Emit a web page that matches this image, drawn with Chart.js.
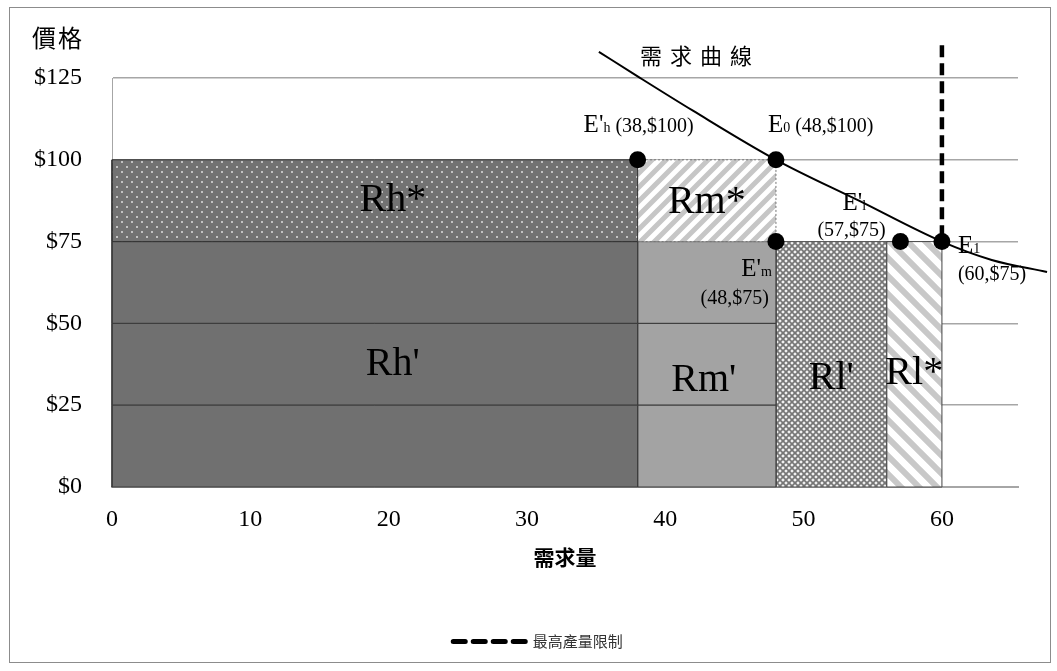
<!DOCTYPE html>
<html>
<head>
<meta charset="utf-8">
<script src="https://cdn.jsdelivr.net/npm/chart.js@4/dist/chart.umd.min.js"></script>
<style>
  html, body { margin: 0; padding: 0; background: #fff; }
  canvas { display: block; }
</style>
</head>
<body>
<canvas id="chart" width="1057" height="671"></canvas>
<script>
// Revenue areas under the demand curve
const regionNames = ["Rh*", "Rh'", "Rm*", "Rm'", "Rl'", "Rl*"];
const regionQtyFrom = [0, 0, 38, 38, 48, 56];
const regionQtyTo = [38, 38, 48, 48, 56, 60];
const regionPriceFrom = [75, 0, 75, 0, 0, 0];
const regionPriceTo = [100, 75, 100, 75, 75, 75];

// Marked points on the chart
const pointNames = ["E'h", "E0", "E'm", "E'l", "E1"];
const pointQty = [38, 48, 48, 57, 60];
const pointPrice = [100, 100, 75, 75, 75];

// Demand curve
const curveQty = [35.2, 38, 42, 48, 54, 60, 63.6, 67.6];
const curvePrice = [133, 125.5, 115, 100, 87.5, 75, 69.4, 65.7];

// Maximum output limit
const capQty = [60, 60];
const capPrice = [135, 75];
const capLabel = "最高產量限制";

// Axes
const qtyTicks = [0, 10, 20, 30, 40, 50, 60];
const priceTicks = [0, 25, 50, 75, 100, 125];
const qtyTitle = "需求量";
const priceTitle = "價格";
const curveTitle = "需求曲線";

const SERIF = "'Liberation Serif', 'Times New Roman', serif";
const CJK = "'Noto Sans CJK TC', 'Noto Sans CJK SC', sans-serif";

// ---- fill patterns ----
function makePattern(size, paint) {
  const c = document.createElement('canvas');
  c.width = size; c.height = size;
  const g = c.getContext('2d');
  paint(g, size);
  return g.createPattern(c, 'repeat');
}
const dotPattern = makePattern(10, (g, s) => {
  g.fillStyle = '#727272'; g.fillRect(0, 0, s, s);
  g.fillStyle = '#b4b4b4';
  g.fillRect(1, 1, 2, 2); g.fillRect(6, 6, 2, 2);
  g.fillStyle = '#ececec';
  g.fillRect(1.5, 1.5, 1, 1); g.fillRect(6.5, 6.5, 1, 1);
});
function stripes(size, width, color, rising) {
  return makePattern(size, (g, s) => {
    g.fillStyle = '#fff'; g.fillRect(0, 0, s, s);
    g.strokeStyle = color; g.lineWidth = width; g.lineCap = 'square';
    g.beginPath();
    for (let k = -1; k <= 1; k++) {
      if (rising) { g.moveTo(k * s, s); g.lineTo(k * s + s, 0); }
      else { g.moveTo(k * s, 0); g.lineTo(k * s + s, s); }
    }
    g.stroke();
  });
}
const risingStripes = stripes(14, 5, '#c6c6c6', true);
const fallingStripes = stripes(18, 6, '#c8c8c8', false);
const crossPattern = makePattern(6, (g, s) => {
  g.fillStyle = '#f2f2f2'; g.fillRect(0, 0, s, s);
  g.strokeStyle = '#767676'; g.lineWidth = 1.7;
  g.beginPath();
  for (let k = -1; k <= 1; k++) {
    g.moveTo(k * s, 0); g.lineTo(k * s + s, s);
    g.moveTo(k * s, s); g.lineTo(k * s + s, 0);
  }
  g.stroke();
});

const regionStyle = {
  "Rh*": { fill: dotPattern, border: '#333', dash: [], split: false },
  "Rh'": { fill: '#707070', border: '#3a3a3a', dash: [], split: true },
  "Rm*": { fill: risingStripes, border: '#777', dash: [2, 2], split: false },
  "Rm'": { fill: '#a3a3a3', border: '#3a3a3a', dash: [], split: true },
  "Rl'": { fill: crossPattern, border: '#555', dash: [], split: false },
  "Rl*": { fill: fallingStripes, border: '#444', dash: [], split: false }
};

function rectPath(x0, x1, y0, y1) {
  return [{x: x0, y: y0}, {x: x1, y: y0}, {x: x1, y: y1}, {x: x0, y: y1}, {x: x0, y: y0}];
}

// region datasets; solid blocks are stacked in price-tick steps
const regionDatasets = [];
regionNames.forEach((name, i) => {
  const st = regionStyle[name];
  const lo = regionPriceFrom[i], hi = regionPriceTo[i];
  const cuts = [lo, ...(st.split ? priceTicks.filter(v => v > lo && v < hi) : []), hi];
  for (let k = 0; k < cuts.length - 1; k++) {
    regionDatasets.push({
      label: name,
      data: rectPath(regionQtyFrom[i], regionQtyTo[i], cuts[k], cuts[k + 1]),
      fill: 'shape',
      backgroundColor: st.fill,
      borderColor: st.border,
      borderWidth: 1,
      borderDash: st.dash,
      borderJoinStyle: 'miter',
      pointRadius: 0,
      tension: 0,
      clip: false
    });
  }
});

const datasets = [
  {
    label: 'points',
    data: pointQty.map((q, i) => ({x: q, y: pointPrice[i]})),
    showLine: false,
    pointRadius: 8.5,
    pointBackgroundColor: '#000',
    pointBorderWidth: 0,
    clip: false
  },
  {
    label: curveTitle,
    data: curveQty.map((q, i) => ({x: q, y: curvePrice[i]})),
    borderColor: '#000',
    borderWidth: 2,
    pointRadius: 0,
    cubicInterpolationMode: 'monotone',
    fill: false,
    clip: false
  },
  {
    label: capLabel,
    data: capQty.map((q, i) => ({x: q, y: capPrice[i]})),
    borderColor: '#000',
    borderWidth: 4.5,
    borderDash: [12, 6],
    pointRadius: 0,
    fill: false,
    clip: false
  },
  ...regionDatasets
];

// frame, axis caption and annotations
const framePlugin = {
  id: 'frame',
  beforeDraw(chart) {
    const {ctx, width, height} = chart;
    ctx.save();
    ctx.fillStyle = '#fff';
    ctx.fillRect(0, 0, width, height);
    ctx.strokeStyle = '#8c8c8c';
    ctx.lineWidth = 1;
    ctx.strokeRect(9.5, 7.5, 1041, 655);
    ctx.restore();
  }
};

function drawRuns(ctx, runs, x, y, align) {
  let total = 0;
  runs.forEach(r => { ctx.font = `${r.size}px ${SERIF}`; total += ctx.measureText(r.text).width; });
  let cx = align === 'right' ? x - total : x;
  ctx.textAlign = 'left';
  ctx.textBaseline = 'alphabetic';
  runs.forEach(r => {
    ctx.font = `${r.size}px ${SERIF}`;
    ctx.fillText(r.text, cx, y);
    cx += ctx.measureText(r.text).width;
  });
}

const pointLabelLayout = {
  "E'h": { oneLine: true, dx: -54, dy: -28, align: 'left' },
  "E0": { oneLine: true, dx: -8, dy: -28, align: 'left' },
  "E'm": { oneLine: false, dx: -4, dy: 34, dx2: -7, dy2: 62, align: 'right' },
  "E'l": { oneLine: false, dx: -58, dy: -32, dx2: -83, dy2: -6, align: 'left' },
  "E1": { oneLine: false, dx: 16, dy: 11, dx2: 16, dy2: 38, align: 'left' }
};
const regionLabelShift = { "Rh*": [18, 0], "Rh'": [18, 0], "Rm*": [0, 2], "Rm'": [-3, 16], "Rl'": [0, 14], "Rl*": [0, 9] };

const annotationPlugin = {
  id: 'annotations',
  afterDatasetsDraw(chart) {
    const {ctx} = chart;
    const xs = chart.scales.x, ys = chart.scales.y;
    ctx.save();
    ctx.fillStyle = '#000';

    regionNames.forEach((name, i) => {
      const sh = regionLabelShift[name] || [0, 0];
      const cx = xs.getPixelForValue((regionQtyFrom[i] + regionQtyTo[i]) / 2) + sh[0];
      const cy = ys.getPixelForValue((regionPriceFrom[i] + regionPriceTo[i]) / 2) + sh[1];
      ctx.font = `40px ${SERIF}`;
      ctx.textAlign = 'center';
      ctx.textBaseline = 'middle';
      ctx.fillText(name, cx, cy);
    });

    pointNames.forEach((name, i) => {
      const L = pointLabelLayout[name];
      const px = xs.getPixelForValue(pointQty[i]);
      const py = ys.getPixelForValue(pointPrice[i]);
      const head = [{text: name.slice(0, -1), size: 25}, {text: name.slice(-1), size: 14}];
      const value = `(${pointQty[i]},$${pointPrice[i]})`;
      if (L.oneLine) {
        drawRuns(ctx, [...head, {text: ' ' + value, size: 20}], px + L.dx, py + L.dy, L.align);
      } else {
        drawRuns(ctx, head, px + L.dx, py + L.dy, L.align);
        drawRuns(ctx, [{text: value, size: 20}], px + L.dx2, py + L.dy2, L.align);
      }
    });

    ctx.font = `24px ${CJK}`;
    ctx.textAlign = 'left';
    ctx.textBaseline = 'middle';
    ctx.letterSpacing = '2px';
    ctx.fillText(priceTitle, 32, 38);

    ctx.font = `22px ${CJK}`;
    ctx.letterSpacing = '8px';
    ctx.fillText(curveTitle, 640, 56);
    ctx.restore();
  }
};

new Chart(document.getElementById('chart'), {
  type: 'line',
  data: { datasets },
  plugins: [framePlugin, annotationPlugin],
  options: {
    responsive: false,
    devicePixelRatio: 1,
    animation: false,
    events: [],
    layout: { padding: { left: 26, right: 7, top: 78, bottom: 12 } },
    scales: {
      x: {
        type: 'linear',
        min: 0,
        max: 65.5,
        afterBuildTicks(s) { s.ticks = qtyTicks.map(v => ({value: v})); },
        afterFit(s) { s.height = 137; },
        grid: { display: false, drawTicks: false },
        border: { display: true, color: '#a6a6a6', width: 2 },
        ticks: { font: { family: SERIF, size: 24 }, color: '#000', padding: 18, maxRotation: 0 },
        title: { display: true, text: qtyTitle, color: '#000', font: { family: CJK, size: 21, weight: 'bold' }, padding: { top: 0, bottom: 54 } }
      },
      y: {
        type: 'linear',
        position: 'left',
        min: 0,
        max: 125,
        afterBuildTicks(s) { s.ticks = priceTicks.map(v => ({value: v})); },
        afterFit(s) { s.width = 86; },
        grid: { color: '#a6a6a6', lineWidth: 1.5, drawTicks: false },
        border: { display: true, color: '#a6a6a6', width: 1 },
        ticks: { font: { family: SERIF, size: 24 }, color: '#000', padding: 30, callback: v => '$' + v }
      },
      // empty right-hand margin so the legend sits under the plot as a whole
      margin: {
        type: 'linear',
        position: 'right',
        display: true,
        min: 0,
        max: 1,
        afterFit(s) { s.width = 32; },
        grid: { display: false, drawTicks: false },
        border: { display: false },
        ticks: { display: false }
      }
    },
    plugins: {
      tooltip: { enabled: false },
      legend: {
        position: 'bottom',
        labels: {
          usePointStyle: true,
          pointStyleWidth: 72,
          padding: 10,
          color: '#333',
          font: { family: CJK, size: 15 },
          generateLabels(chart) {
            const idx = chart.data.datasets.findIndex(d => d.label === capLabel);
            return [{
              text: capLabel,
              datasetIndex: idx,
              fillStyle: '#000',
              strokeStyle: '#000',
              lineWidth: 5,
              lineDash: [12, 8],
              lineCap: 'round',
              pointStyle: 'line',
              hidden: false,
              fontColor: '#333'
            }];
          }
        }
      }
    }
  }
});
</script>
</body>
</html>
